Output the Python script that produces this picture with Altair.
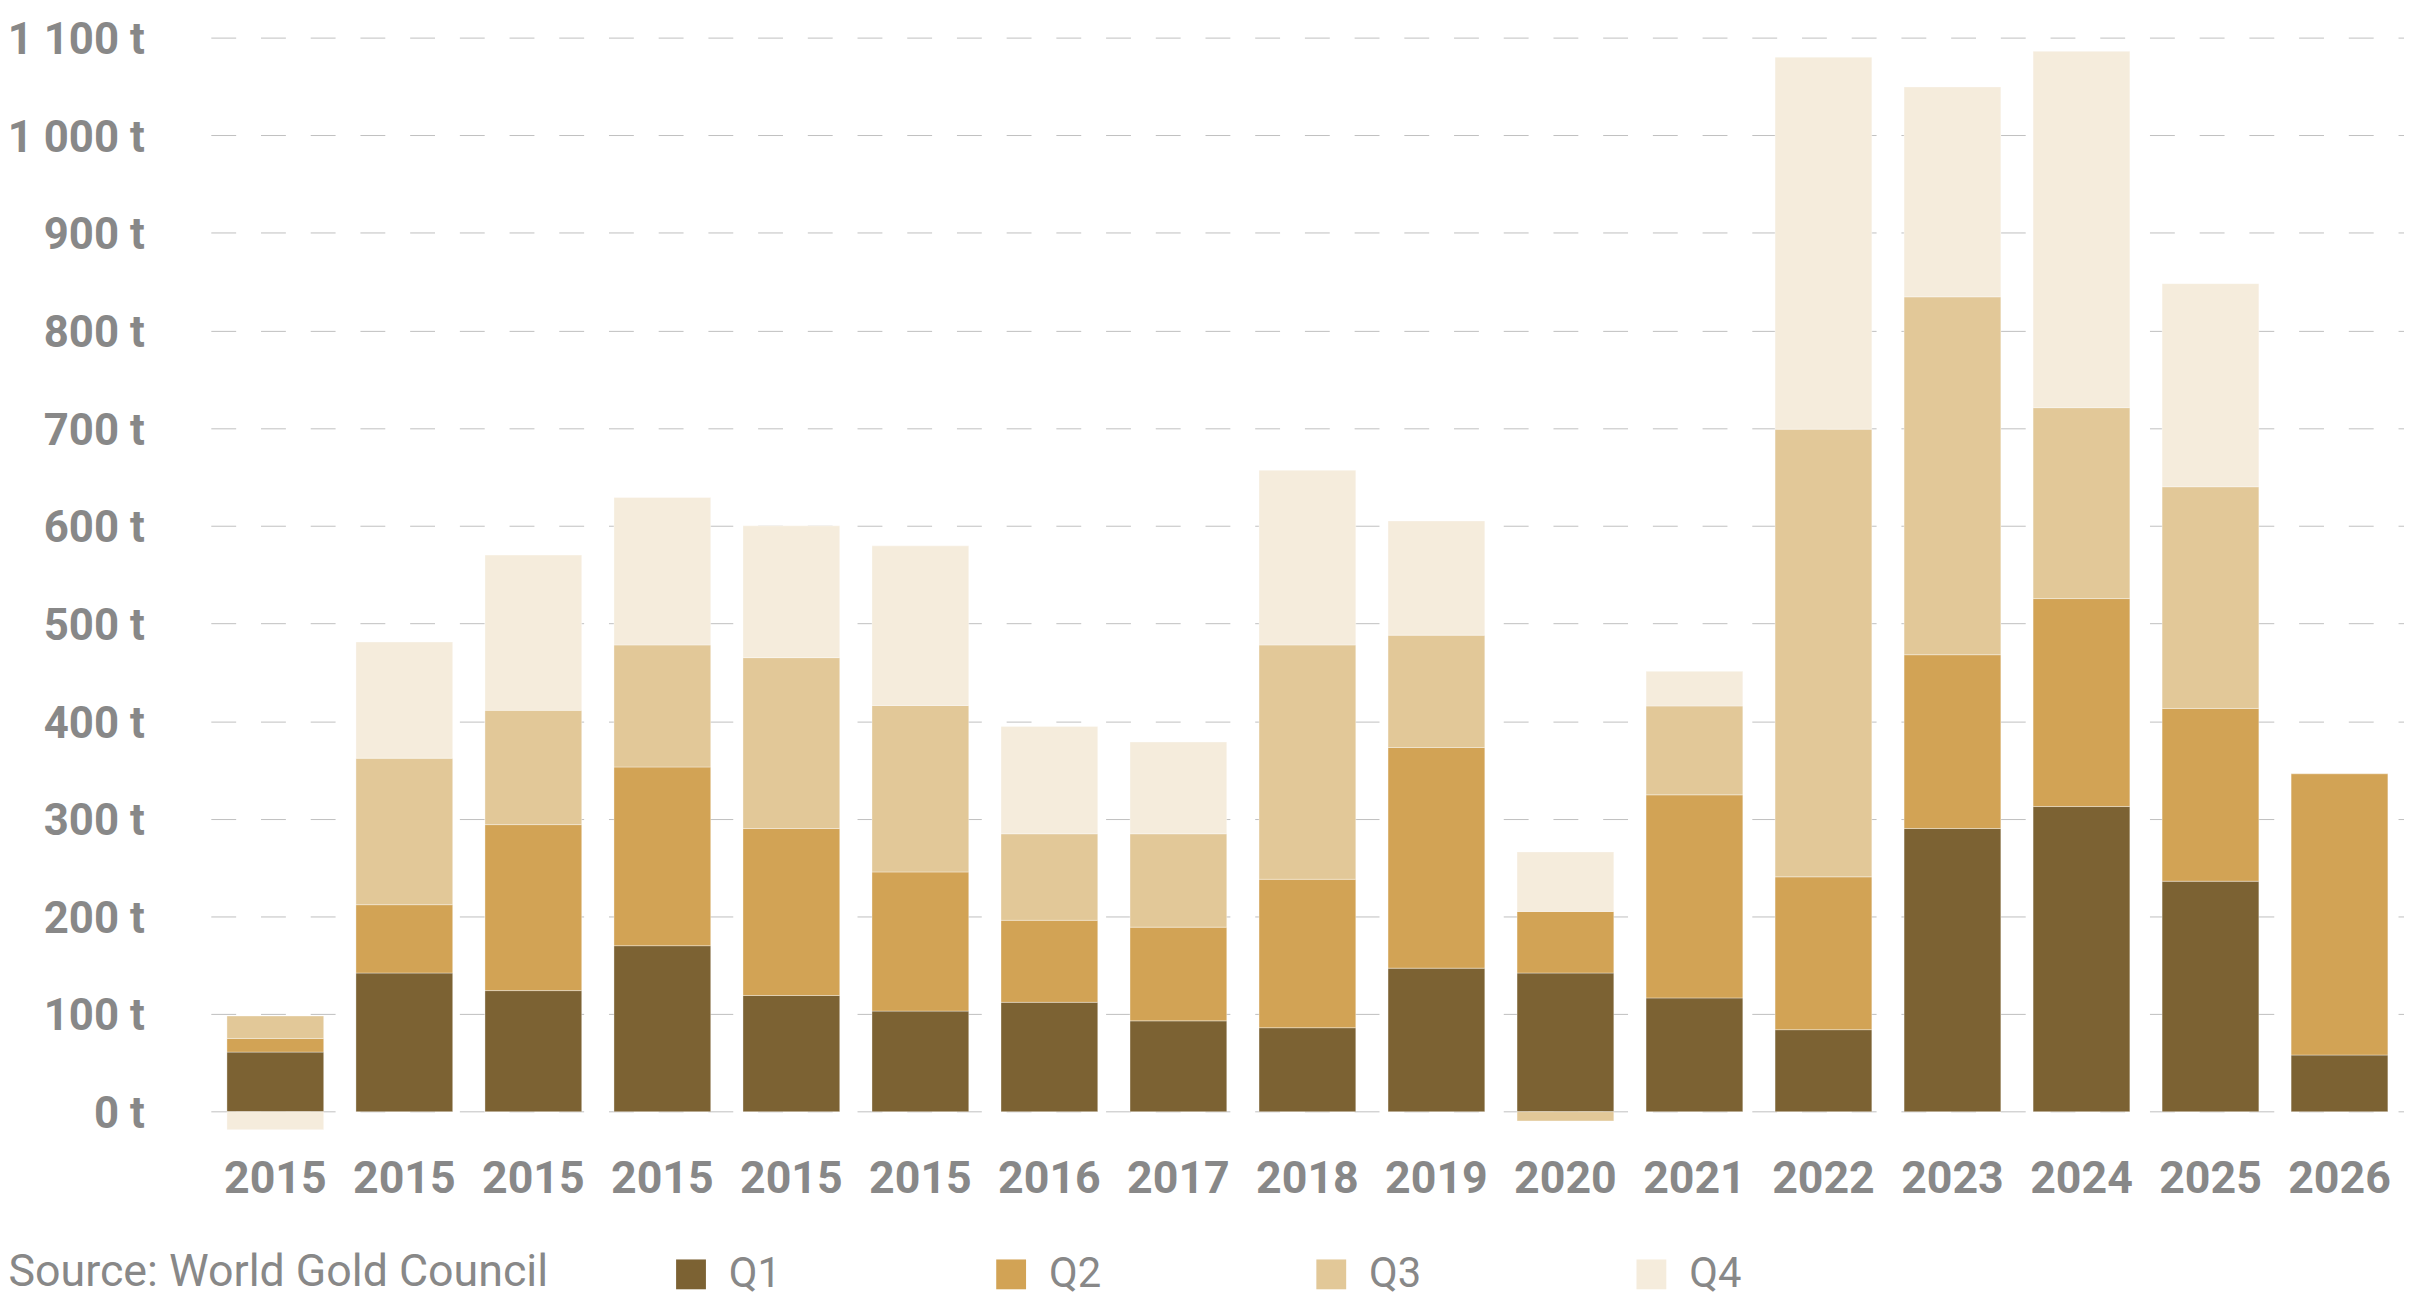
import json
import altair as alt
import pandas as pd

# ---- data ----
labels = ["2015", "2015", "2015", "2015", "2015", "2015", "2016", "2017", "2018",
          "2019", "2020", "2021", "2022", "2023", "2024", "2025", "2026"]
q1 = [61, 142, 124, 170, 119, 103, 112, 93, 86, 147, 142, 116.5, 84, 290, 312.5, 236, 58]
q2 = [14, 70, 170, 183, 171, 142.5, 84, 96, 152, 226, 63, 208, 156.5, 178, 213, 177, 288]
q3 = [23, 150, 117, 125, 175, 170.5, 88.6, 95.6, 240, 115, -9.5, 91, 458.5, 366.5, 195.5, 227, 0]
q4 = [-18.5, 119, 159, 151, 135, 163.5, 110, 94, 179, 117, 61, 35.5, 381, 215, 365, 208, 0]
quarters = ["Q1", "Q2", "Q3", "Q4"]
colors = ["#7c6233", "#d2a355", "#e2c898", "#f5ecdc"]
y_ticks = list(range(0, 1200, 100))
source = "Source: World Gold Council"

rows = []
for i, lab in enumerate(labels):
    for k, (q, series) in enumerate(zip(quarters, [q1, q2, q3, q4])):
        v = series[i]
        if v != 0:
            rows.append({"idx": i, "year": lab, "quarter": q, "order": k, "value": v})
df = pd.DataFrame(rows)

label_expr = json.dumps(labels) + "[datum.value]"
grey = "#888888"
font = "Roboto"

bars = alt.Chart(df).mark_bar(stroke="white", strokeWidth=1, strokeOpacity=0.35).encode(
    x=alt.X("idx:O",
            scale=alt.Scale(paddingInner=0.25, paddingOuter=0.125),
            axis=alt.Axis(title=None, labelExpr=label_expr, labelAngle=0,
                          labelFontSize=45, labelFontWeight="bold", labelColor=grey,
                          labelFont=font, labelPadding=26, ticks=False, tickSize=0,
                          domain=False, grid=False)),
    y=alt.Y("value:Q", stack="zero",
            scale=alt.Scale(domain=[-20, 1100], nice=False, zero=False),
            axis=alt.Axis(title=None, values=y_ticks,
                          labelExpr="replace(format(datum.value, ','), ',', ' ') + ' t'",
                          labelFontSize=44, labelFontWeight="bold", labelColor=grey,
                          labelFont=font, labelPadding=67, labelOffset=3,
                          ticks=False, tickSize=0,
                          domain=False, grid=True, gridDash=[25, 25],
                          gridColor="#c0c0c0", gridWidth=1)),
    color=alt.Color("quarter:N",
                    scale=alt.Scale(domain=quarters, range=colors),
                    legend=alt.Legend(title=None, orient="none", legendX=462, legendY=1223,
                                      direction="horizontal", columns=4,
                                      symbolType="square", symbolSize=900,
                                      symbolStrokeWidth=0, symbolOpacity=1,
                                      labelFontSize=42, labelFont=font, labelColor=grey,
                                      labelOffset=17, columnPadding=210, padding=0)),
    order=alt.Order("order:Q"),
)

src = alt.Chart(pd.DataFrame({"t": [source]})).mark_text(
    align="left", baseline="alphabetic", fontSize=45, font=font, color=grey
).encode(x=alt.value(-203.5), y=alt.value(1256), text="t:N")

chart = alt.layer(bars, src).properties(
    width=2206, height=1100,
    padding={"left": 204, "top": 26, "right": 0, "bottom": 166},
    autosize=alt.AutoSizeParams(type="none"),
).configure(font=font).configure_view(stroke=None)

chart.save("out.html", embed_options={"renderer": "svg", "actions": False})
